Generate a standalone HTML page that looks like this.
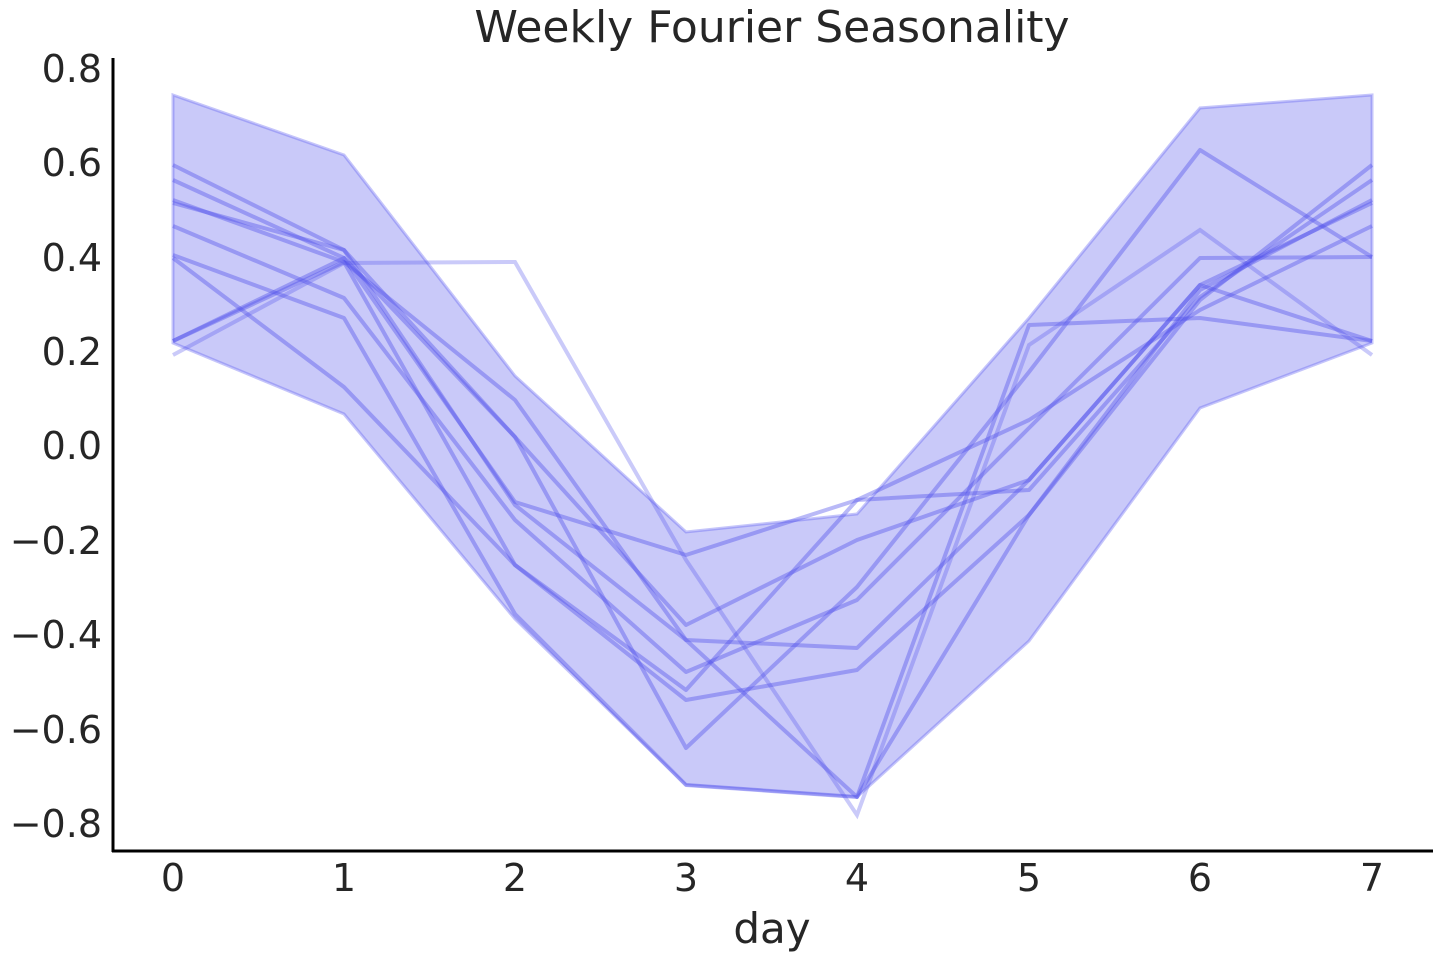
<!DOCTYPE html>
<html><head><meta charset="utf-8"><style>
html,body{margin:0;padding:0;background:#fff;}
svg text{font-family:"DejaVu Sans","Liberation Sans",sans-serif;fill:#262626;}
</style></head><body>
<svg width="1440" height="960" viewBox="0 0 1440 960" xmlns="http://www.w3.org/2000/svg">
<text x="772" y="42" font-size="44" text-anchor="middle">Weekly Fourier Seasonality</text>
<polygon points="173,95 344,155 515,376 686,532 857,514 1029,318 1200,108 1372,95 1372,343 1200,408 1029,641 857,797 686,785 515,619 344,414 173,343"
 fill="rgba(120,120,240,0.4)" stroke="rgba(90,90,240,0.35)" stroke-width="3"/>
<g fill="none" stroke="rgba(80,80,235,0.4)" stroke-width="4" stroke-linejoin="round">
<polyline points="173,165 344,250 515,437 686,748 857,587 1029,372 1200,150 1372,257"/>
<polyline points="173,180 344,258 515,502 686,555 857,500 1029,490 1200,297 1372,180"/>
<polyline points="173,200 344,262 515,565 686,700 857,670 1029,515 1200,290 1372,200"/>
<polyline points="173,203 344,250 515,505 686,640 857,648 1029,480 1200,285 1372,203"/>
<polyline points="173,226 344,298 515,520 686,672 857,600 1029,428 1200,258 1372,257"/>
<polyline points="173,255 344,318 515,614 686,785 857,797 1029,515 1200,300 1372,165"/>
<polyline points="173,258 344,387 515,565 686,690 857,500 1029,420 1200,310 1372,226"/>
<polyline points="173,341 344,258 515,437 686,625 857,540 1029,480 1200,285 1372,341"/>
<polyline points="173,341 344,262 515,400 686,640 857,797 1029,325 1200,318 1372,341"/>
</g>
<polyline points="173,355 344,263 515,262 686,560 857,815 1029,345 1200,230 1372,355" fill="none" stroke="rgba(80,80,235,0.3)" stroke-width="4"/>
<line x1="113" y1="58" x2="113" y2="852" stroke="#000" stroke-width="3"/>
<line x1="112" y1="851" x2="1433" y2="851" stroke="#000" stroke-width="3"/>
<g font-size="38" text-anchor="end">
<text x="102" y="82">0.8</text>
<text x="102" y="176">0.6</text>
<text x="102" y="271">0.4</text>
<text x="102" y="365">0.2</text>
<text x="102" y="459">0.0</text>
<text x="102" y="554">−0.2</text>
<text x="102" y="648">−0.4</text>
<text x="102" y="743">−0.6</text>
<text x="102" y="837">−0.8</text>
</g>
<g font-size="38" text-anchor="middle">
<text x="173" y="891">0</text><text x="344" y="891">1</text><text x="515" y="891">2</text><text x="686" y="891">3</text>
<text x="857" y="891">4</text><text x="1029" y="891">5</text><text x="1200" y="891">6</text><text x="1372" y="891">7</text>
<text x="772" y="943" font-size="42">day</text>
</g>
</svg>
</body></html>
